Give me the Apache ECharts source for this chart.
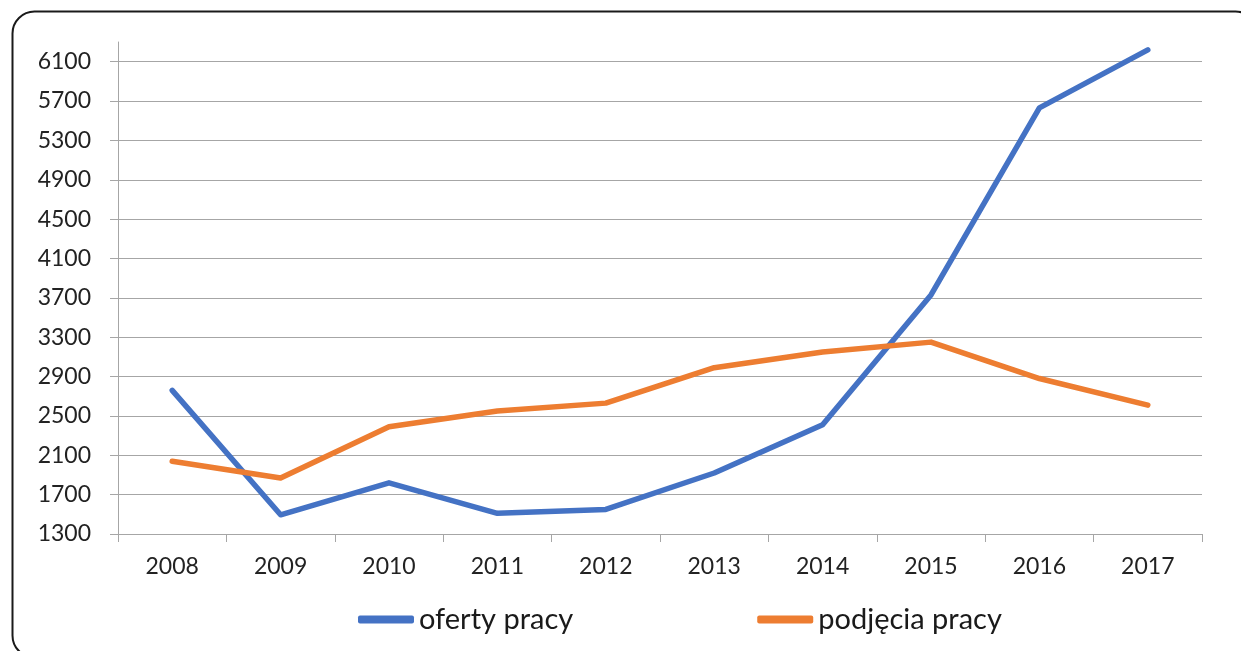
<!DOCTYPE html>
<html>
<head>
<meta charset="utf-8">
<script src="https://cdn.jsdelivr.net/npm/echarts@6/dist/echarts.min.js"></script>
<style>html,body{margin:0;padding:0;background:#fff;}#c{width:1241px;height:651px;}</style>
</head>
<body>
<div id="c"></div>
<script>
const years = ['2008','2009','2010','2011','2012','2013','2014','2015','2016','2017'];
const ofertyPracy = [2760, 1495, 1820, 1510, 1550, 1920, 2410, 3730, 5630, 6220];
const podjeciaPracy = [2040, 1870, 2390, 2550, 2630, 2990, 3150, 3250, 2880, 2610];
const yTicks = [1300, 1700, 2100, 2500, 2900, 3300, 3700, 4100, 4500, 4900, 5300, 5700, 6100];
const seriesNames = ['oferty pracy', 'podjęcia pracy'];

const chart = echarts.init(document.getElementById('c'), null, {renderer: 'canvas'});
const font = 'Lato, "Noto Sans", sans-serif';
chart.setOption({
  animation: false,
  graphic: [{
    type: 'rect', left: 10, top: 9,
    shape: {x: 0, y: 0, width: 1245, height: 646, r: 22},
    style: {fill: 'none', stroke: '#1a1a1a', lineWidth: 2}
  }],
  grid: {left: 118, right: 39, top: 42, bottom: 117, containLabel: false},
  legend: {
    top: 600, left: 353, itemGap: 184, itemWidth: 56, itemHeight: 8,
    icon: 'roundRect',
    textStyle: {fontFamily: font, fontSize: 29, color: '#1a1a1a'},
    data: seriesNames
  },
  xAxis: {
    type: 'category', data: years, boundaryGap: true,
    axisLine: {lineStyle: {color: '#a6a6a6', width: 1}},
    axisTick: {show: true, length: 8, lineStyle: {color: '#a6a6a6'}},
    axisLabel: {fontFamily: font, fontSize: 23, color: '#222', margin: 21}
  },
  yAxis: {
    type: 'value', min: 1300, max: 6300, interval: 400,
    axisLine: {show: true, lineStyle: {color: '#a6a6a6', width: 1}},
    axisTick: {show: true, length: 8, inside: false, lineStyle: {color: '#a6a6a6'}, customValues: yTicks},
    axisLabel: {fontFamily: font, fontSize: 23, color: '#222', margin: 27, customValues: yTicks,
                formatter: function (v) { return String(v); }},
    splitLine: {show: true, lineStyle: {color: '#a6a6a6', width: 1.2}}
  },
  series: [
    {name: seriesNames[0], type: 'line', data: ofertyPracy, symbol: 'none',
     lineStyle: {color: '#4472C4', width: 5.5, cap: 'round', join: 'round'}, itemStyle: {color: '#4472C4'}},
    {name: seriesNames[1], type: 'line', data: podjeciaPracy, symbol: 'none',
     lineStyle: {color: '#ED7D31', width: 5.5, cap: 'round', join: 'round'}, itemStyle: {color: '#ED7D31'}}
  ]
});
</script>
</body>
</html>
